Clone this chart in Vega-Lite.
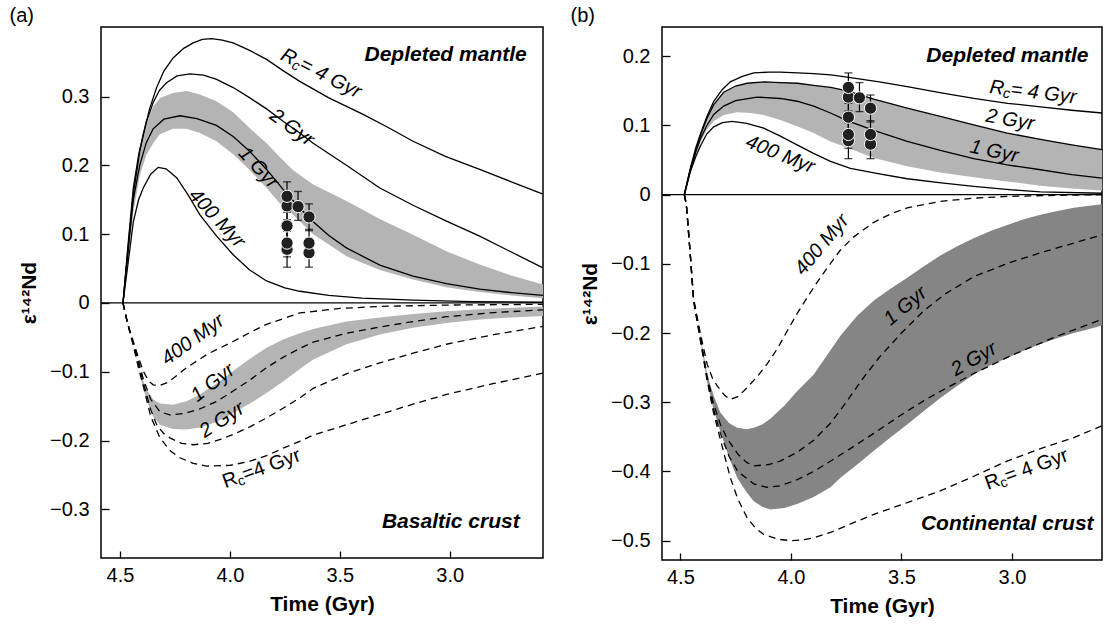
{
"$schema": "https://vega.github.io/schema/vega-lite/v6.json",
"padding": {"left": 8, "top": 5, "right": 2, "bottom": 2},
"spacing": 22,
"config": {
  "view": {"stroke": "black", "strokeWidth": 1.5},
  "font": "Liberation Sans",
  "axis": {"tickColor": "black", "labelColor": "black", "titleColor": "black", "tickWidth": 1.3, "labelFont": "Liberation Sans", "titleFont": "Liberation Sans", "grid": false, "domain": false},
  "title": {"font": "Liberation Sans", "fontWeight": "normal", "fontSize": 20, "color": "black"},
  "text": {"font": "Liberation Sans", "color": "black"}
},
"datasets": {
  "aBandM": [
    {"t":4.486,"e":0,"e2":0},{"t":4.46,"e":0.07,"e2":0.095},{"t":4.44,"e":0.13,"e2":0.17},{"t":4.41,"e":0.185,"e2":0.225},{"t":4.38,"e":0.215,"e2":0.26},{"t":4.349,"e":0.232,"e2":0.285},{"t":4.318,"e":0.245,"e2":0.298},{"t":4.258,"e":0.253,"e2":0.305},{"t":4.197,"e":0.253,"e2":0.308},{"t":4.136,"e":0.247,"e2":0.303},{"t":4.061,"e":0.235,"e2":0.293},{"t":3.985,"e":0.216,"e2":0.277},{"t":3.909,"e":0.193,"e2":0.254},{"t":3.833,"e":0.167,"e2":0.232},{"t":3.773,"e":0.145,"e2":0.212},{"t":3.712,"e":0.128,"e2":0.193},{"t":3.621,"e":0.1,"e2":0.172},{"t":3.47,"e":0.068,"e2":0.148},{"t":3.318,"e":0.048,"e2":0.122},{"t":3.167,"e":0.034,"e2":0.099},{"t":3.015,"e":0.023,"e2":0.075},{"t":2.864,"e":0.016,"e2":0.056},{"t":2.72,"e":0.011,"e2":0.04},{"t":2.576,"e":0.007,"e2":0.027}
  ],
  "aBandC": [
    {"t":4.41,"e":-0.105,"e2":-0.1},{"t":4.38,"e":-0.14,"e2":-0.125},{"t":4.349,"e":-0.165,"e2":-0.14},{"t":4.318,"e":-0.177,"e2":-0.146},{"t":4.258,"e":-0.183,"e2":-0.148},{"t":4.197,"e":-0.184,"e2":-0.143},{"t":4.136,"e":-0.181,"e2":-0.133},{"t":4.061,"e":-0.173,"e2":-0.117},{"t":3.985,"e":-0.16,"e2":-0.099},{"t":3.909,"e":-0.146,"e2":-0.081},{"t":3.833,"e":-0.131,"e2":-0.065},{"t":3.758,"e":-0.114,"e2":-0.053},{"t":3.682,"e":-0.096,"e2":-0.044},{"t":3.621,"e":-0.082,"e2":-0.038},{"t":3.47,"e":-0.06,"e2":-0.027},{"t":3.318,"e":-0.046,"e2":-0.021},{"t":3.167,"e":-0.036,"e2":-0.016},{"t":3.015,"e":-0.029,"e2":-0.012},{"t":2.864,"e":-0.024,"e2":-0.009},{"t":2.72,"e":-0.021,"e2":-0.007},{"t":2.576,"e":-0.019,"e2":-0.005}
  ],
  "aSolid": [
    {"c":"m4","t":4.486,"e":0},{"c":"m4","t":4.46,"e":0.095},{"c":"m4","t":4.439,"e":0.167},{"c":"m4","t":4.415,"e":0.215},{"c":"m4","t":4.394,"e":0.245},{"c":"m4","t":4.365,"e":0.282},{"c":"m4","t":4.333,"e":0.313},{"c":"m4","t":4.3,"e":0.337},{"c":"m4","t":4.258,"e":0.356},{"c":"m4","t":4.21,"e":0.37},{"c":"m4","t":4.167,"e":0.378},{"c":"m4","t":4.125,"e":0.383},{"c":"m4","t":4.083,"e":0.384},{"c":"m4","t":4.035,"e":0.382},{"c":"m4","t":3.985,"e":0.378},{"c":"m4","t":3.91,"e":0.367},{"c":"m4","t":3.833,"e":0.354},{"c":"m4","t":3.76,"e":0.338},{"c":"m4","t":3.682,"e":0.322},{"c":"m4","t":3.55,"e":0.298},{"c":"m4","t":3.394,"e":0.274},{"c":"m4","t":3.28,"e":0.255},{"c":"m4","t":3.167,"e":0.235},{"c":"m4","t":3.02,"e":0.213},{"c":"m4","t":2.864,"e":0.194},{"c":"m4","t":2.72,"e":0.176},{"c":"m4","t":2.576,"e":0.158},
    {"c":"m2","t":4.486,"e":0},{"c":"m2","t":4.46,"e":0.09},{"c":"m2","t":4.439,"e":0.158},{"c":"m2","t":4.409,"e":0.222},{"c":"m2","t":4.38,"e":0.263},{"c":"m2","t":4.349,"e":0.291},{"c":"m2","t":4.32,"e":0.309},{"c":"m2","t":4.288,"e":0.32},{"c":"m2","t":4.24,"e":0.33},{"c":"m2","t":4.182,"e":0.333},{"c":"m2","t":4.12,"e":0.331},{"c":"m2","t":4.06,"e":0.325},{"c":"m2","t":3.985,"e":0.313},{"c":"m2","t":3.909,"e":0.298},{"c":"m2","t":3.833,"e":0.282},{"c":"m2","t":3.758,"e":0.264},{"c":"m2","t":3.682,"e":0.247},{"c":"m2","t":3.621,"e":0.232},{"c":"m2","t":3.47,"e":0.2},{"c":"m2","t":3.318,"e":0.167},{"c":"m2","t":3.167,"e":0.142},{"c":"m2","t":3.015,"e":0.119},{"c":"m2","t":2.864,"e":0.097},{"c":"m2","t":2.72,"e":0.074},{"c":"m2","t":2.576,"e":0.051},
    {"c":"m1","t":4.486,"e":0},{"c":"m1","t":4.46,"e":0.085},{"c":"m1","t":4.439,"e":0.15},{"c":"m1","t":4.41,"e":0.2},{"c":"m1","t":4.38,"e":0.233},{"c":"m1","t":4.349,"e":0.253},{"c":"m1","t":4.3,"e":0.267},{"c":"m1","t":4.227,"e":0.272},{"c":"m1","t":4.15,"e":0.268},{"c":"m1","t":4.061,"e":0.258},{"c":"m1","t":3.985,"e":0.242},{"c":"m1","t":3.909,"e":0.22},{"c":"m1","t":3.833,"e":0.194},{"c":"m1","t":3.758,"e":0.165},{"c":"m1","t":3.682,"e":0.138},{"c":"m1","t":3.621,"e":0.118},{"c":"m1","t":3.55,"e":0.098},{"c":"m1","t":3.47,"e":0.08},{"c":"m1","t":3.318,"e":0.055},{"c":"m1","t":3.167,"e":0.039},{"c":"m1","t":3.015,"e":0.028},{"c":"m1","t":2.864,"e":0.02},{"c":"m1","t":2.72,"e":0.015},{"c":"m1","t":2.576,"e":0.011},
    {"c":"m400","t":4.486,"e":0},{"c":"m400","t":4.46,"e":0.065},{"c":"m400","t":4.439,"e":0.118},{"c":"m400","t":4.415,"e":0.15},{"c":"m400","t":4.394,"e":0.167},{"c":"m400","t":4.36,"e":0.187},{"c":"m400","t":4.326,"e":0.197},{"c":"m400","t":4.29,"e":0.195},{"c":"m400","t":4.242,"e":0.182},{"c":"m400","t":4.19,"e":0.157},{"c":"m400","t":4.136,"e":0.128},{"c":"m400","t":4.06,"e":0.097},{"c":"m400","t":3.985,"e":0.07},{"c":"m400","t":3.91,"e":0.048},{"c":"m400","t":3.833,"e":0.032},{"c":"m400","t":3.75,"e":0.022},{"c":"m400","t":3.682,"e":0.017},{"c":"m400","t":3.55,"e":0.011},{"c":"m400","t":3.4,"e":0.007},{"c":"m400","t":3.167,"e":0.004},{"c":"m400","t":2.9,"e":0.002},{"c":"m400","t":2.576,"e":0.001}
  ],
  "aDashed": [
    {"c":"c400","t":4.486,"e":0},{"c":"c400","t":4.465,"e":-0.03},{"c":"c400","t":4.439,"e":-0.056},{"c":"c400","t":4.415,"e":-0.08},{"c":"c400","t":4.394,"e":-0.099},{"c":"c400","t":4.37,"e":-0.113},{"c":"c400","t":4.349,"e":-0.119},{"c":"c400","t":4.32,"e":-0.12},{"c":"c400","t":4.28,"e":-0.115},{"c":"c400","t":4.24,"e":-0.105},{"c":"c400","t":4.197,"e":-0.094},{"c":"c400","t":4.1,"e":-0.074},{"c":"c400","t":3.985,"e":-0.056},{"c":"c400","t":3.909,"e":-0.043},{"c":"c400","t":3.833,"e":-0.031},{"c":"c400","t":3.75,"e":-0.022},{"c":"c400","t":3.682,"e":-0.0145},{"c":"c400","t":3.5,"e":-0.008},{"c":"c400","t":3.318,"e":-0.005},{"c":"c400","t":3.0,"e":-0.003},{"c":"c400","t":2.576,"e":-0.002},
    {"c":"c1","t":4.486,"e":0},{"c":"c1","t":4.465,"e":-0.03},{"c":"c1","t":4.439,"e":-0.058},{"c":"c1","t":4.415,"e":-0.085},{"c":"c1","t":4.394,"e":-0.11},{"c":"c1","t":4.36,"e":-0.14},{"c":"c1","t":4.318,"e":-0.158},{"c":"c1","t":4.27,"e":-0.163},{"c":"c1","t":4.2,"e":-0.16},{"c":"c1","t":4.136,"e":-0.154},{"c":"c1","t":4.06,"e":-0.143},{"c":"c1","t":3.985,"e":-0.128},{"c":"c1","t":3.909,"e":-0.112},{"c":"c1","t":3.833,"e":-0.094},{"c":"c1","t":3.758,"e":-0.079},{"c":"c1","t":3.682,"e":-0.066},{"c":"c1","t":3.621,"e":-0.057},{"c":"c1","t":3.47,"e":-0.044},{"c":"c1","t":3.318,"e":-0.035},{"c":"c1","t":3.167,"e":-0.027},{"c":"c1","t":3.015,"e":-0.02},{"c":"c1","t":2.8,"e":-0.014},{"c":"c1","t":2.576,"e":-0.01},
    {"c":"c2","t":4.486,"e":0},{"c":"c2","t":4.465,"e":-0.03},{"c":"c2","t":4.439,"e":-0.06},{"c":"c2","t":4.415,"e":-0.09},{"c":"c2","t":4.394,"e":-0.115},{"c":"c2","t":4.36,"e":-0.155},{"c":"c2","t":4.333,"e":-0.177},{"c":"c2","t":4.3,"e":-0.19},{"c":"c2","t":4.273,"e":-0.196},{"c":"c2","t":4.22,"e":-0.204},{"c":"c2","t":4.167,"e":-0.206},{"c":"c2","t":4.1,"e":-0.204},{"c":"c2","t":4.04,"e":-0.198},{"c":"c2","t":3.985,"e":-0.191},{"c":"c2","t":3.909,"e":-0.18},{"c":"c2","t":3.833,"e":-0.167},{"c":"c2","t":3.758,"e":-0.153},{"c":"c2","t":3.682,"e":-0.138},{"c":"c2","t":3.621,"e":-0.124},{"c":"c2","t":3.47,"e":-0.103},{"c":"c2","t":3.318,"e":-0.087},{"c":"c2","t":3.167,"e":-0.073},{"c":"c2","t":3.015,"e":-0.06},{"c":"c2","t":2.8,"e":-0.046},{"c":"c2","t":2.576,"e":-0.034},
    {"c":"c4","t":4.486,"e":0},{"c":"c4","t":4.465,"e":-0.03},{"c":"c4","t":4.439,"e":-0.062},{"c":"c4","t":4.415,"e":-0.095},{"c":"c4","t":4.394,"e":-0.12},{"c":"c4","t":4.36,"e":-0.165},{"c":"c4","t":4.318,"e":-0.196},{"c":"c4","t":4.27,"e":-0.215},{"c":"c4","t":4.227,"e":-0.225},{"c":"c4","t":4.167,"e":-0.233},{"c":"c4","t":4.106,"e":-0.237},{"c":"c4","t":4.0,"e":-0.236},{"c":"c4","t":3.909,"e":-0.23},{"c":"c4","t":3.833,"e":-0.222},{"c":"c4","t":3.758,"e":-0.211},{"c":"c4","t":3.682,"e":-0.201},{"c":"c4","t":3.621,"e":-0.192},{"c":"c4","t":3.47,"e":-0.177},{"c":"c4","t":3.318,"e":-0.162},{"c":"c4","t":3.167,"e":-0.147},{"c":"c4","t":3.015,"e":-0.133},{"c":"c4","t":2.8,"e":-0.117},{"c":"c4","t":2.576,"e":-0.102}
  ],
  "bBandM": [
    {"t":4.482,"e":0,"e2":0},{"t":4.455,"e":0.034,"e2":0.036},{"t":4.41,"e":0.075,"e2":0.085},{"t":4.38,"e":0.094,"e2":0.11},{"t":4.349,"e":0.106,"e2":0.13},{"t":4.304,"e":0.115,"e2":0.148},{"t":4.243,"e":0.119,"e2":0.157},{"t":4.18,"e":0.118,"e2":0.161},{"t":4.123,"e":0.115,"e2":0.163},{"t":4.048,"e":0.108,"e2":0.162},{"t":3.972,"e":0.099,"e2":0.161},{"t":3.897,"e":0.089,"e2":0.158},{"t":3.821,"e":0.077,"e2":0.155},{"t":3.746,"e":0.068,"e2":0.15},{"t":3.625,"e":0.053,"e2":0.138},{"t":3.474,"e":0.041,"e2":0.125},{"t":3.324,"e":0.032,"e2":0.113},{"t":3.173,"e":0.025,"e2":0.101},{"t":3.022,"e":0.019,"e2":0.089},{"t":2.871,"e":0.013,"e2":0.08},{"t":2.73,"e":0.009,"e2":0.072},{"t":2.593,"e":0.006,"e2":0.065}
  ],
  "bBandC": [
    {"t":4.41,"e":-0.207,"e2":-0.203},{"t":4.379,"e":-0.27,"e2":-0.26},{"t":4.35,"e":-0.31,"e2":-0.29},{"t":4.319,"e":-0.342,"e2":-0.315},{"t":4.28,"e":-0.38,"e2":-0.33},{"t":4.243,"e":-0.409,"e2":-0.337},{"t":4.2,"e":-0.43,"e2":-0.339},{"t":4.168,"e":-0.443,"e2":-0.337},{"t":4.13,"e":-0.451,"e2":-0.332},{"t":4.093,"e":-0.455,"e2":-0.324},{"t":4.03,"e":-0.453,"e2":-0.305},{"t":3.972,"e":-0.447,"e2":-0.284},{"t":3.897,"e":-0.437,"e2":-0.26},{"t":3.821,"e":-0.423,"e2":-0.225},{"t":3.776,"e":-0.409,"e2":-0.204},{"t":3.7,"e":-0.39,"e2":-0.175},{"t":3.625,"e":-0.37,"e2":-0.153},{"t":3.55,"e":-0.351,"e2":-0.136},{"t":3.474,"e":-0.332,"e2":-0.12},{"t":3.4,"e":-0.313,"e2":-0.104},{"t":3.324,"e":-0.294,"e2":-0.088},{"t":3.25,"e":-0.277,"e2":-0.075},{"t":3.173,"e":-0.26,"e2":-0.063},{"t":3.1,"e":-0.247,"e2":-0.053},{"t":3.022,"e":-0.236,"e2":-0.044},{"t":2.95,"e":-0.226,"e2":-0.036},{"t":2.871,"e":-0.216,"e2":-0.029},{"t":2.8,"e":-0.208,"e2":-0.024},{"t":2.72,"e":-0.2,"e2":-0.019},{"t":2.65,"e":-0.194,"e2":-0.016},{"t":2.593,"e":-0.189,"e2":-0.014}
  ],
  "bSolid": [
    {"c":"m4","t":4.482,"e":0},{"c":"m4","t":4.468,"e":0.02},{"c":"m4","t":4.455,"e":0.038},{"c":"m4","t":4.43,"e":0.068},{"c":"m4","t":4.41,"e":0.087},{"c":"m4","t":4.38,"e":0.113},{"c":"m4","t":4.349,"e":0.135},{"c":"m4","t":4.31,"e":0.152},{"c":"m4","t":4.274,"e":0.163},{"c":"m4","t":4.22,"e":0.171},{"c":"m4","t":4.168,"e":0.176},{"c":"m4","t":4.1,"e":0.177},{"c":"m4","t":4.048,"e":0.177},{"c":"m4","t":3.97,"e":0.176},{"c":"m4","t":3.897,"e":0.175},{"c":"m4","t":3.82,"e":0.173},{"c":"m4","t":3.746,"e":0.17},{"c":"m4","t":3.6,"e":0.163},{"c":"m4","t":3.474,"e":0.156},{"c":"m4","t":3.32,"e":0.147},{"c":"m4","t":3.173,"e":0.139},{"c":"m4","t":3.02,"e":0.132},{"c":"m4","t":2.871,"e":0.127},{"c":"m4","t":2.73,"e":0.122},{"c":"m4","t":2.593,"e":0.118},
    {"c":"m2","t":4.482,"e":0},{"c":"m2","t":4.468,"e":0.019},{"c":"m2","t":4.455,"e":0.036},{"c":"m2","t":4.43,"e":0.065},{"c":"m2","t":4.41,"e":0.085},{"c":"m2","t":4.38,"e":0.11},{"c":"m2","t":4.349,"e":0.13},{"c":"m2","t":4.304,"e":0.148},{"c":"m2","t":4.25,"e":0.157},{"c":"m2","t":4.198,"e":0.161},{"c":"m2","t":4.12,"e":0.163},{"c":"m2","t":4.048,"e":0.162},{"c":"m2","t":3.97,"e":0.161},{"c":"m2","t":3.897,"e":0.158},{"c":"m2","t":3.82,"e":0.155},{"c":"m2","t":3.746,"e":0.15},{"c":"m2","t":3.625,"e":0.138},{"c":"m2","t":3.474,"e":0.125},{"c":"m2","t":3.324,"e":0.113},{"c":"m2","t":3.173,"e":0.101},{"c":"m2","t":3.022,"e":0.089},{"c":"m2","t":2.871,"e":0.08},{"c":"m2","t":2.73,"e":0.072},{"c":"m2","t":2.593,"e":0.065},
    {"c":"m1","t":4.482,"e":0},{"c":"m1","t":4.468,"e":0.018},{"c":"m1","t":4.455,"e":0.035},{"c":"m1","t":4.43,"e":0.062},{"c":"m1","t":4.41,"e":0.08},{"c":"m1","t":4.38,"e":0.1},{"c":"m1","t":4.349,"e":0.116},{"c":"m1","t":4.304,"e":0.128},{"c":"m1","t":4.25,"e":0.136},{"c":"m1","t":4.153,"e":0.141},{"c":"m1","t":4.048,"e":0.139},{"c":"m1","t":3.972,"e":0.135},{"c":"m1","t":3.897,"e":0.128},{"c":"m1","t":3.821,"e":0.118},{"c":"m1","t":3.746,"e":0.107},{"c":"m1","t":3.625,"e":0.093},{"c":"m1","t":3.474,"e":0.077},{"c":"m1","t":3.324,"e":0.064},{"c":"m1","t":3.173,"e":0.052},{"c":"m1","t":3.022,"e":0.043},{"c":"m1","t":2.871,"e":0.036},{"c":"m1","t":2.73,"e":0.029},{"c":"m1","t":2.593,"e":0.024},
    {"c":"m400","t":4.482,"e":0},{"c":"m400","t":4.468,"e":0.017},{"c":"m400","t":4.455,"e":0.033},{"c":"m400","t":4.43,"e":0.055},{"c":"m400","t":4.41,"e":0.07},{"c":"m400","t":4.38,"e":0.088},{"c":"m400","t":4.349,"e":0.098},{"c":"m400","t":4.31,"e":0.104},{"c":"m400","t":4.266,"e":0.106},{"c":"m400","t":4.2,"e":0.103},{"c":"m400","t":4.123,"e":0.096},{"c":"m400","t":4.05,"e":0.085},{"c":"m400","t":3.972,"e":0.072},{"c":"m400","t":3.9,"e":0.06},{"c":"m400","t":3.821,"e":0.048},{"c":"m400","t":3.731,"e":0.038},{"c":"m400","t":3.6,"e":0.03},{"c":"m400","t":3.474,"e":0.023},{"c":"m400","t":3.32,"e":0.017},{"c":"m400","t":3.173,"e":0.012},{"c":"m400","t":3.0,"e":0.007},{"c":"m400","t":2.871,"e":0.004},{"c":"m400","t":2.593,"e":0.002}
  ],
  "bDashed": [
    {"c":"c400","t":4.482,"e":0},{"c":"c400","t":4.473,"e":-0.014},{"c":"c400","t":4.455,"e":-0.087},{"c":"c400","t":4.44,"e":-0.15},{"c":"c400","t":4.41,"e":-0.2},{"c":"c400","t":4.379,"e":-0.245},{"c":"c400","t":4.355,"e":-0.265},{"c":"c400","t":4.334,"e":-0.276},{"c":"c400","t":4.3,"e":-0.29},{"c":"c400","t":4.274,"e":-0.296},{"c":"c400","t":4.24,"e":-0.292},{"c":"c400","t":4.198,"e":-0.279},{"c":"c400","t":4.15,"e":-0.262},{"c":"c400","t":4.108,"e":-0.245},{"c":"c400","t":4.06,"e":-0.222},{"c":"c400","t":4.017,"e":-0.197},{"c":"c400","t":3.972,"e":-0.172},{"c":"c400","t":3.927,"e":-0.149},{"c":"c400","t":3.88,"e":-0.126},{"c":"c400","t":3.836,"e":-0.106},{"c":"c400","t":3.776,"e":-0.08},{"c":"c400","t":3.72,"e":-0.062},{"c":"c400","t":3.625,"e":-0.04},{"c":"c400","t":3.55,"e":-0.028},{"c":"c400","t":3.474,"e":-0.019},{"c":"c400","t":3.324,"e":-0.0097},{"c":"c400","t":3.17,"e":-0.005},{"c":"c400","t":3.02,"e":-0.0025},{"c":"c400","t":2.8,"e":-0.001},{"c":"c400","t":2.593,"e":0},
    {"c":"c1","t":4.482,"e":0},{"c":"c1","t":4.473,"e":-0.014},{"c":"c1","t":4.455,"e":-0.087},{"c":"c1","t":4.44,"e":-0.152},{"c":"c1","t":4.41,"e":-0.205},{"c":"c1","t":4.379,"e":-0.262},{"c":"c1","t":4.35,"e":-0.302},{"c":"c1","t":4.319,"e":-0.332},{"c":"c1","t":4.289,"e":-0.352},{"c":"c1","t":4.24,"e":-0.375},{"c":"c1","t":4.2,"e":-0.387},{"c":"c1","t":4.168,"e":-0.392},{"c":"c1","t":4.1,"e":-0.39},{"c":"c1","t":4.048,"e":-0.385},{"c":"c1","t":3.97,"e":-0.372},{"c":"c1","t":3.897,"e":-0.355},{"c":"c1","t":3.82,"e":-0.33},{"c":"c1","t":3.75,"e":-0.3},{"c":"c1","t":3.68,"e":-0.268},{"c":"c1","t":3.6,"e":-0.235},{"c":"c1","t":3.5,"e":-0.2},{"c":"c1","t":3.4,"e":-0.168},{"c":"c1","t":3.3,"e":-0.143},{"c":"c1","t":3.17,"e":-0.118},{"c":"c1","t":3.0,"e":-0.097},{"c":"c1","t":2.85,"e":-0.082},{"c":"c1","t":2.72,"e":-0.07},{"c":"c1","t":2.593,"e":-0.058},
    {"c":"c2","t":4.482,"e":0},{"c":"c2","t":4.473,"e":-0.014},{"c":"c2","t":4.455,"e":-0.087},{"c":"c2","t":4.44,"e":-0.153},{"c":"c2","t":4.41,"e":-0.207},{"c":"c2","t":4.379,"e":-0.265},{"c":"c2","t":4.35,"e":-0.31},{"c":"c2","t":4.319,"e":-0.345},{"c":"c2","t":4.28,"e":-0.378},{"c":"c2","t":4.24,"e":-0.4},{"c":"c2","t":4.168,"e":-0.418},{"c":"c2","t":4.108,"e":-0.423},{"c":"c2","t":4.05,"e":-0.421},{"c":"c2","t":3.972,"e":-0.412},{"c":"c2","t":3.897,"e":-0.4},{"c":"c2","t":3.82,"e":-0.385},{"c":"c2","t":3.746,"e":-0.37},{"c":"c2","t":3.625,"e":-0.345},{"c":"c2","t":3.5,"e":-0.318},{"c":"c2","t":3.4,"e":-0.298},{"c":"c2","t":3.3,"e":-0.28},{"c":"c2","t":3.17,"e":-0.258},{"c":"c2","t":3.0,"e":-0.232},{"c":"c2","t":2.8,"e":-0.205},{"c":"c2","t":2.593,"e":-0.18},
    {"c":"c4","t":4.482,"e":0},{"c":"c4","t":4.473,"e":-0.014},{"c":"c4","t":4.455,"e":-0.087},{"c":"c4","t":4.44,"e":-0.154},{"c":"c4","t":4.41,"e":-0.21},{"c":"c4","t":4.379,"e":-0.268},{"c":"c4","t":4.35,"e":-0.315},{"c":"c4","t":4.31,"e":-0.365},{"c":"c4","t":4.274,"e":-0.409},{"c":"c4","t":4.24,"e":-0.44},{"c":"c4","t":4.198,"e":-0.467},{"c":"c4","t":4.16,"e":-0.482},{"c":"c4","t":4.123,"e":-0.491},{"c":"c4","t":4.06,"e":-0.498},{"c":"c4","t":4.0,"e":-0.5},{"c":"c4","t":3.95,"e":-0.499},{"c":"c4","t":3.897,"e":-0.496},{"c":"c4","t":3.82,"e":-0.488},{"c":"c4","t":3.746,"e":-0.478},{"c":"c4","t":3.625,"e":-0.462},{"c":"c4","t":3.474,"e":-0.445},{"c":"c4","t":3.324,"e":-0.428},{"c":"c4","t":3.173,"e":-0.407},{"c":"c4","t":3.022,"e":-0.385},{"c":"c4","t":2.871,"e":-0.367},{"c":"c4","t":2.72,"e":-0.351},{"c":"c4","t":2.593,"e":-0.334}
  ],
  "samples": [
    {"t":3.74,"e":0.078,"lo":0.052,"hi":0.104},{"t":3.74,"e":0.087,"lo":0.067,"hi":0.107},{"t":3.74,"e":0.112,"lo":0.092,"hi":0.132},{"t":3.74,"e":0.141,"lo":0.121,"hi":0.161},{"t":3.74,"e":0.155,"lo":0.135,"hi":0.176},
    {"t":3.69,"e":0.14,"lo":0.12,"hi":0.162},
    {"t":3.64,"e":0.073,"lo":0.052,"hi":0.094},{"t":3.64,"e":0.087,"lo":0.067,"hi":0.107},{"t":3.64,"e":0.125,"lo":0.105,"hi":0.144}
  ]
},
"hconcat": [
{
  "width": 442, "height": 531,
  "title": {"text": "(a)", "anchor": "start", "frame": "bounds", "dx": -9, "offset": 1},
  "layer": [
    {"data": {"name": "aBandM"}, "mark": {"type": "area", "color": "#b4b4b4"},
     "encoding": {
       "x": {"field": "t", "type": "quantitative", "scale": {"domain": [4.586, 2.576], "nice": false, "zero": false},
             "axis": {"title": "Time (Gyr)", "values": [4.5, 4.0, 3.5, 3.0], "format": ".1f", "tickSize": -7, "labelPadding": 14, "labelFontSize": 20, "titleFontSize": 21, "titleFontWeight": "bold", "titlePadding": 8}},
       "y": {"field": "e", "type": "quantitative", "scale": {"domain": [-0.3706, 0.401], "nice": false, "zero": false},
             "axis": {"title": "ε¹⁴²Nd", "values": [-0.3, -0.2, -0.1, 0, 0.1, 0.2, 0.3], "labelExpr": "datum.value == 0 ? '0' : format(datum.value, '.1f')", "tickSize": -8, "labelPadding": 20, "labelFontSize": 20, "titleFontSize": 21, "titleFontWeight": "bold", "titlePadding": 10}},
       "y2": {"field": "e2"}}},
    {"data": {"name": "aBandC"}, "mark": {"type": "area", "color": "#b4b4b4"},
     "encoding": {
       "x": {"field": "t", "type": "quantitative", "scale": {"domain": [4.586, 2.576], "nice": false, "zero": false}},
       "y": {"field": "e", "type": "quantitative", "scale": {"domain": [-0.3706, 0.401], "nice": false, "zero": false}},
       "y2": {"field": "e2"}}},
    {"data": {"values": [{}]}, "mark": {"type": "rule", "color": "black", "strokeWidth": 1.3},
     "encoding": {
       "y": {"datum": 0, "type": "quantitative", "scale": {"domain": [-0.3706, 0.401], "nice": false, "zero": false}}}},
    {"data": {"name": "aSolid"}, "mark": {"type": "line", "color": "black", "strokeWidth": 1.3},
     "encoding": {
       "x": {"field": "t", "type": "quantitative", "scale": {"domain": [4.586, 2.576], "nice": false, "zero": false}},
       "y": {"field": "e", "type": "quantitative", "scale": {"domain": [-0.3706, 0.401], "nice": false, "zero": false}},
       "detail": {"field": "c"}}},
    {"data": {"name": "aDashed"}, "mark": {"type": "line", "color": "black", "strokeWidth": 1.3, "strokeDash": [7, 5]},
     "encoding": {
       "x": {"field": "t", "type": "quantitative", "scale": {"domain": [4.586, 2.576], "nice": false, "zero": false}},
       "y": {"field": "e", "type": "quantitative", "scale": {"domain": [-0.3706, 0.401], "nice": false, "zero": false}},
       "detail": {"field": "c"}}},
    {"data": {"name": "samples"}, "mark": {"type": "rule", "color": "black", "strokeWidth": 1.2},
     "encoding": {
       "x": {"field": "t", "type": "quantitative", "scale": {"domain": [4.586, 2.576], "nice": false, "zero": false}},
       "y": {"field": "lo", "type": "quantitative", "scale": {"domain": [-0.3706, 0.401], "nice": false, "zero": false}},
       "y2": {"field": "hi"}}},
    {"data": {"name": "samples"}, "mark": {"type": "tick", "color": "black", "orient": "horizontal", "size": 8, "thickness": 1.3},
     "encoding": {
       "x": {"field": "t", "type": "quantitative", "scale": {"domain": [4.586, 2.576], "nice": false, "zero": false}},
       "y": {"field": "lo", "type": "quantitative", "scale": {"domain": [-0.3706, 0.401], "nice": false, "zero": false}}}},
    {"data": {"name": "samples"}, "mark": {"type": "tick", "color": "black", "orient": "horizontal", "size": 8, "thickness": 1.3},
     "encoding": {
       "x": {"field": "t", "type": "quantitative", "scale": {"domain": [4.586, 2.576], "nice": false, "zero": false}},
       "y": {"field": "hi", "type": "quantitative", "scale": {"domain": [-0.3706, 0.401], "nice": false, "zero": false}}}},
    {"data": {"name": "samples"}, "mark": {"type": "point", "shape": "circle", "filled": true, "size": 150, "fill": "#202020", "stroke": "white", "strokeWidth": 1, "opacity": 1},
     "encoding": {
       "x": {"field": "t", "type": "quantitative", "scale": {"domain": [4.586, 2.576], "nice": false, "zero": false}},
       "y": {"field": "e", "type": "quantitative", "scale": {"domain": [-0.3706, 0.401], "nice": false, "zero": false}}}},
    {"data": {"values": [{"t": 2.65, "e": 0.36, "label": "Depleted mantle"}, {"t": 2.682, "e": -0.318, "label": "Basaltic crust"}]},
     "mark": {"type": "text", "align": "right", "baseline": "middle", "fontSize": 21, "fontWeight": "bold", "fontStyle": "italic"},
     "encoding": {
       "x": {"field": "t", "type": "quantitative", "scale": {"domain": [4.586, 2.576], "nice": false, "zero": false}},
       "y": {"field": "e", "type": "quantitative", "scale": {"domain": [-0.3706, 0.401], "nice": false, "zero": false}},
       "text": {"field": "label"}}},
    {"data": {"values": [{"t": 3.575, "e": 0.332, "label": "R"}]},
     "mark": {"type": "text", "align": "left", "baseline": "middle", "fontSize": 20, "fontStyle": "italic", "angle": 27, "dx": -46},
     "encoding": {"x": {"field": "t", "type": "quantitative", "scale": {"domain": [4.586, 2.576], "nice": false, "zero": false}}, "y": {"field": "e", "type": "quantitative", "scale": {"domain": [-0.3706, 0.401], "nice": false, "zero": false}}, "text": {"field": "label"}}},
    {"data": {"values": [{"t": 3.575, "e": 0.332, "label": "c"}]},
     "mark": {"type": "text", "align": "left", "baseline": "middle", "fontSize": 14, "fontStyle": "italic", "angle": 27, "dx": -32, "dy": 5},
     "encoding": {"x": {"field": "t", "type": "quantitative", "scale": {"domain": [4.586, 2.576], "nice": false, "zero": false}}, "y": {"field": "e", "type": "quantitative", "scale": {"domain": [-0.3706, 0.401], "nice": false, "zero": false}}, "text": {"field": "label"}}},
    {"data": {"values": [{"t": 3.575, "e": 0.332, "label": " = 4 Gyr"}]},
     "mark": {"type": "text", "align": "left", "baseline": "middle", "fontSize": 20, "fontStyle": "italic", "angle": 27, "dx": -25},
     "encoding": {"x": {"field": "t", "type": "quantitative", "scale": {"domain": [4.586, 2.576], "nice": false, "zero": false}}, "y": {"field": "e", "type": "quantitative", "scale": {"domain": [-0.3706, 0.401], "nice": false, "zero": false}}, "text": {"field": "label"}}},
    {"data": {"values": [{"t": 3.718, "e": 0.255, "label": "2 Gyr"}]},
     "mark": {"type": "text", "align": "center", "baseline": "middle", "fontSize": 20, "fontStyle": "italic", "angle": 36},
     "encoding": {"x": {"field": "t", "type": "quantitative", "scale": {"domain": [4.586, 2.576], "nice": false, "zero": false}}, "y": {"field": "e", "type": "quantitative", "scale": {"domain": [-0.3706, 0.401], "nice": false, "zero": false}}, "text": {"field": "label"}}},
    {"data": {"values": [{"t": 3.87, "e": 0.1965, "label": "1 Gyr"}]},
     "mark": {"type": "text", "align": "center", "baseline": "middle", "fontSize": 20, "fontStyle": "italic", "angle": 47},
     "encoding": {"x": {"field": "t", "type": "quantitative", "scale": {"domain": [4.586, 2.576], "nice": false, "zero": false}}, "y": {"field": "e", "type": "quantitative", "scale": {"domain": [-0.3706, 0.401], "nice": false, "zero": false}}, "text": {"field": "label"}}},
    {"data": {"values": [{"t": 4.059, "e": 0.123, "label": "400 Myr"}]},
     "mark": {"type": "text", "align": "center", "baseline": "middle", "fontSize": 20, "fontStyle": "italic", "angle": 47},
     "encoding": {"x": {"field": "t", "type": "quantitative", "scale": {"domain": [4.586, 2.576], "nice": false, "zero": false}}, "y": {"field": "e", "type": "quantitative", "scale": {"domain": [-0.3706, 0.401], "nice": false, "zero": false}}, "text": {"field": "label"}}},
    {"data": {"values": [{"t": 4.168, "e": -0.0535, "label": "400 Myr"}]},
     "mark": {"type": "text", "align": "center", "baseline": "middle", "fontSize": 20, "fontStyle": "italic", "angle": -36},
     "encoding": {"x": {"field": "t", "type": "quantitative", "scale": {"domain": [4.586, 2.576], "nice": false, "zero": false}}, "y": {"field": "e", "type": "quantitative", "scale": {"domain": [-0.3706, 0.401], "nice": false, "zero": false}}, "text": {"field": "label"}}},
    {"data": {"values": [{"t": 4.077, "e": -0.116, "label": "1 Gyr"}]},
     "mark": {"type": "text", "align": "center", "baseline": "middle", "fontSize": 20, "fontStyle": "italic", "angle": -38},
     "encoding": {"x": {"field": "t", "type": "quantitative", "scale": {"domain": [4.586, 2.576], "nice": false, "zero": false}}, "y": {"field": "e", "type": "quantitative", "scale": {"domain": [-0.3706, 0.401], "nice": false, "zero": false}}, "text": {"field": "label"}}},
    {"data": {"values": [{"t": 4.036, "e": -0.17, "label": "2 Gyr"}]},
     "mark": {"type": "text", "align": "center", "baseline": "middle", "fontSize": 20, "fontStyle": "italic", "angle": -33},
     "encoding": {"x": {"field": "t", "type": "quantitative", "scale": {"domain": [4.586, 2.576], "nice": false, "zero": false}}, "y": {"field": "e", "type": "quantitative", "scale": {"domain": [-0.3706, 0.401], "nice": false, "zero": false}}, "text": {"field": "label"}}},
    {"data": {"values": [{"t": 3.859, "e": -0.241, "label": "R"}]},
     "mark": {"type": "text", "align": "left", "baseline": "middle", "fontSize": 20, "angle": -20, "dx": -40},
     "encoding": {"x": {"field": "t", "type": "quantitative", "scale": {"domain": [4.586, 2.576], "nice": false, "zero": false}}, "y": {"field": "e", "type": "quantitative", "scale": {"domain": [-0.3706, 0.401], "nice": false, "zero": false}}, "text": {"field": "label"}}},
    {"data": {"values": [{"t": 3.859, "e": -0.241, "label": "c"}]},
     "mark": {"type": "text", "align": "left", "baseline": "middle", "fontSize": 14, "angle": -20, "dx": -26, "dy": 5},
     "encoding": {"x": {"field": "t", "type": "quantitative", "scale": {"domain": [4.586, 2.576], "nice": false, "zero": false}}, "y": {"field": "e", "type": "quantitative", "scale": {"domain": [-0.3706, 0.401], "nice": false, "zero": false}}, "text": {"field": "label"}}},
    {"data": {"values": [{"t": 3.859, "e": -0.241, "label": "=4 Gyr"}]},
     "mark": {"type": "text", "align": "left", "baseline": "middle", "fontSize": 20, "angle": -20, "dx": -19},
     "encoding": {"x": {"field": "t", "type": "quantitative", "scale": {"domain": [4.586, 2.576], "nice": false, "zero": false}}, "y": {"field": "e", "type": "quantitative", "scale": {"domain": [-0.3706, 0.401], "nice": false, "zero": false}}, "text": {"field": "label"}}}
  ]
},
{
  "width": 440, "height": 533,
  "title": {"text": "(b)", "anchor": "start", "frame": "bounds", "dx": -9, "offset": 1},
  "layer": [
    {"data": {"name": "bBandM"}, "mark": {"type": "area", "color": "#b4b4b4"},
     "encoding": {
       "x": {"field": "t", "type": "quantitative", "scale": {"domain": [4.583, 2.593], "nice": false, "zero": false},
             "axis": {"title": "Time (Gyr)", "values": [4.5, 4.0, 3.5, 3.0], "format": ".1f", "tickSize": -7, "labelPadding": 14, "labelFontSize": 20, "titleFontSize": 21, "titleFontWeight": "bold", "titlePadding": 8}},
       "y": {"field": "e", "type": "quantitative", "scale": {"domain": [-0.528, 0.2423], "nice": false, "zero": false},
             "axis": {"title": "ε¹⁴²Nd", "values": [-0.5, -0.4, -0.3, -0.2, -0.1, 0, 0.1, 0.2], "labelExpr": "datum.value == 0 ? '0' : format(datum.value, '.1f')", "tickSize": -8, "labelPadding": 20, "labelFontSize": 20, "titleFontSize": 21, "titleFontWeight": "bold", "titlePadding": 10}},
       "y2": {"field": "e2"}}},
    {"data": {"name": "bBandC"}, "mark": {"type": "area", "color": "#858585"},
     "encoding": {
       "x": {"field": "t", "type": "quantitative", "scale": {"domain": [4.583, 2.593], "nice": false, "zero": false}},
       "y": {"field": "e", "type": "quantitative", "scale": {"domain": [-0.528, 0.2423], "nice": false, "zero": false}},
       "y2": {"field": "e2"}}},
    {"data": {"values": [{}]}, "mark": {"type": "rule", "color": "black", "strokeWidth": 1.3},
     "encoding": {
       "y": {"datum": 0, "type": "quantitative", "scale": {"domain": [-0.528, 0.2423], "nice": false, "zero": false}}}},
    {"data": {"name": "bSolid"}, "mark": {"type": "line", "color": "black", "strokeWidth": 1.3},
     "encoding": {
       "x": {"field": "t", "type": "quantitative", "scale": {"domain": [4.583, 2.593], "nice": false, "zero": false}},
       "y": {"field": "e", "type": "quantitative", "scale": {"domain": [-0.528, 0.2423], "nice": false, "zero": false}},
       "detail": {"field": "c"}}},
    {"data": {"name": "bDashed"}, "mark": {"type": "line", "color": "black", "strokeWidth": 1.3, "strokeDash": [7, 5]},
     "encoding": {
       "x": {"field": "t", "type": "quantitative", "scale": {"domain": [4.583, 2.593], "nice": false, "zero": false}},
       "y": {"field": "e", "type": "quantitative", "scale": {"domain": [-0.528, 0.2423], "nice": false, "zero": false}},
       "detail": {"field": "c"}}},
    {"data": {"name": "samples"}, "mark": {"type": "rule", "color": "black", "strokeWidth": 1.2},
     "encoding": {
       "x": {"field": "t", "type": "quantitative", "scale": {"domain": [4.583, 2.593], "nice": false, "zero": false}},
       "y": {"field": "lo", "type": "quantitative", "scale": {"domain": [-0.528, 0.2423], "nice": false, "zero": false}},
       "y2": {"field": "hi"}}},
    {"data": {"name": "samples"}, "mark": {"type": "tick", "color": "black", "orient": "horizontal", "size": 8, "thickness": 1.3},
     "encoding": {
       "x": {"field": "t", "type": "quantitative", "scale": {"domain": [4.583, 2.593], "nice": false, "zero": false}},
       "y": {"field": "lo", "type": "quantitative", "scale": {"domain": [-0.528, 0.2423], "nice": false, "zero": false}}}},
    {"data": {"name": "samples"}, "mark": {"type": "tick", "color": "black", "orient": "horizontal", "size": 8, "thickness": 1.3},
     "encoding": {
       "x": {"field": "t", "type": "quantitative", "scale": {"domain": [4.583, 2.593], "nice": false, "zero": false}},
       "y": {"field": "hi", "type": "quantitative", "scale": {"domain": [-0.528, 0.2423], "nice": false, "zero": false}}}},
    {"data": {"name": "samples"}, "mark": {"type": "point", "shape": "circle", "filled": true, "size": 150, "fill": "#202020", "stroke": "white", "strokeWidth": 1, "opacity": 1},
     "encoding": {
       "x": {"field": "t", "type": "quantitative", "scale": {"domain": [4.583, 2.593], "nice": false, "zero": false}},
       "y": {"field": "e", "type": "quantitative", "scale": {"domain": [-0.528, 0.2423], "nice": false, "zero": false}}}},
    {"data": {"values": [{"t": 2.654, "e": 0.201, "label": "Depleted mantle"}, {"t": 2.631, "e": -0.4765, "label": "Continental crust"}]},
     "mark": {"type": "text", "align": "right", "baseline": "middle", "fontSize": 21, "fontWeight": "bold", "fontStyle": "italic"},
     "encoding": {
       "x": {"field": "t", "type": "quantitative", "scale": {"domain": [4.583, 2.593], "nice": false, "zero": false}},
       "y": {"field": "e", "type": "quantitative", "scale": {"domain": [-0.528, 0.2423], "nice": false, "zero": false}},
       "text": {"field": "label"}}},
    {"data": {"values": [{"t": 2.894, "e": 0.1476, "label": "R"}]},
     "mark": {"type": "text", "align": "left", "baseline": "middle", "fontSize": 20, "fontStyle": "italic", "angle": 7, "dx": -46},
     "encoding": {"x": {"field": "t", "type": "quantitative", "scale": {"domain": [4.583, 2.593], "nice": false, "zero": false}}, "y": {"field": "e", "type": "quantitative", "scale": {"domain": [-0.528, 0.2423], "nice": false, "zero": false}}, "text": {"field": "label"}}},
    {"data": {"values": [{"t": 2.894, "e": 0.1476, "label": "c"}]},
     "mark": {"type": "text", "align": "left", "baseline": "middle", "fontSize": 14, "fontStyle": "italic", "angle": 7, "dx": -32, "dy": 5},
     "encoding": {"x": {"field": "t", "type": "quantitative", "scale": {"domain": [4.583, 2.593], "nice": false, "zero": false}}, "y": {"field": "e", "type": "quantitative", "scale": {"domain": [-0.528, 0.2423], "nice": false, "zero": false}}, "text": {"field": "label"}}},
    {"data": {"values": [{"t": 2.894, "e": 0.1476, "label": " = 4 Gyr"}]},
     "mark": {"type": "text", "align": "left", "baseline": "middle", "fontSize": 20, "fontStyle": "italic", "angle": 7, "dx": -25},
     "encoding": {"x": {"field": "t", "type": "quantitative", "scale": {"domain": [4.583, 2.593], "nice": false, "zero": false}}, "y": {"field": "e", "type": "quantitative", "scale": {"domain": [-0.528, 0.2423], "nice": false, "zero": false}}, "text": {"field": "label"}}},
    {"data": {"values": [{"t": 3.009, "e": 0.108, "label": "2 Gyr"}]},
     "mark": {"type": "text", "align": "center", "baseline": "middle", "fontSize": 20, "fontStyle": "italic", "angle": 10},
     "encoding": {"x": {"field": "t", "type": "quantitative", "scale": {"domain": [4.583, 2.593], "nice": false, "zero": false}}, "y": {"field": "e", "type": "quantitative", "scale": {"domain": [-0.528, 0.2423], "nice": false, "zero": false}}, "text": {"field": "label"}}},
    {"data": {"values": [{"t": 3.081, "e": 0.0625, "label": "1 Gyr"}]},
     "mark": {"type": "text", "align": "center", "baseline": "middle", "fontSize": 20, "fontStyle": "italic", "angle": 12},
     "encoding": {"x": {"field": "t", "type": "quantitative", "scale": {"domain": [4.583, 2.593], "nice": false, "zero": false}}, "y": {"field": "e", "type": "quantitative", "scale": {"domain": [-0.528, 0.2423], "nice": false, "zero": false}}, "text": {"field": "label"}}},
    {"data": {"values": [{"t": 4.048, "e": 0.058, "label": "400 Myr"}]},
     "mark": {"type": "text", "align": "center", "baseline": "middle", "fontSize": 20, "fontStyle": "italic", "angle": 22},
     "encoding": {"x": {"field": "t", "type": "quantitative", "scale": {"domain": [4.583, 2.593], "nice": false, "zero": false}}, "y": {"field": "e", "type": "quantitative", "scale": {"domain": [-0.528, 0.2423], "nice": false, "zero": false}}, "text": {"field": "label"}}},
    {"data": {"values": [{"t": 3.86, "e": -0.0724, "label": "400 Myr"}]},
     "mark": {"type": "text", "align": "center", "baseline": "middle", "fontSize": 20, "fontStyle": "italic", "angle": -50},
     "encoding": {"x": {"field": "t", "type": "quantitative", "scale": {"domain": [4.583, 2.593], "nice": false, "zero": false}}, "y": {"field": "e", "type": "quantitative", "scale": {"domain": [-0.528, 0.2423], "nice": false, "zero": false}}, "text": {"field": "label"}}},
    {"data": {"values": [{"t": 3.482, "e": -0.161, "label": "1 Gyr"}]},
     "mark": {"type": "text", "align": "center", "baseline": "middle", "fontSize": 20, "fontStyle": "italic", "angle": -40},
     "encoding": {"x": {"field": "t", "type": "quantitative", "scale": {"domain": [4.583, 2.593], "nice": false, "zero": false}}, "y": {"field": "e", "type": "quantitative", "scale": {"domain": [-0.528, 0.2423], "nice": false, "zero": false}}, "text": {"field": "label"}}},
    {"data": {"values": [{"t": 3.172, "e": -0.2377, "label": "2 Gyr"}]},
     "mark": {"type": "text", "align": "center", "baseline": "middle", "fontSize": 20, "fontStyle": "italic", "angle": -30},
     "encoding": {"x": {"field": "t", "type": "quantitative", "scale": {"domain": [4.583, 2.593], "nice": false, "zero": false}}, "y": {"field": "e", "type": "quantitative", "scale": {"domain": [-0.528, 0.2423], "nice": false, "zero": false}}, "text": {"field": "label"}}},
    {"data": {"values": [{"t": 2.932, "e": -0.397, "label": "R"}]},
     "mark": {"type": "text", "align": "left", "baseline": "middle", "fontSize": 20, "angle": -20, "dx": -44},
     "encoding": {"x": {"field": "t", "type": "quantitative", "scale": {"domain": [4.583, 2.593], "nice": false, "zero": false}}, "y": {"field": "e", "type": "quantitative", "scale": {"domain": [-0.528, 0.2423], "nice": false, "zero": false}}, "text": {"field": "label"}}},
    {"data": {"values": [{"t": 2.932, "e": -0.397, "label": "c"}]},
     "mark": {"type": "text", "align": "left", "baseline": "middle", "fontSize": 14, "angle": -20, "dx": -30, "dy": 5},
     "encoding": {"x": {"field": "t", "type": "quantitative", "scale": {"domain": [4.583, 2.593], "nice": false, "zero": false}}, "y": {"field": "e", "type": "quantitative", "scale": {"domain": [-0.528, 0.2423], "nice": false, "zero": false}}, "text": {"field": "label"}}},
    {"data": {"values": [{"t": 2.932, "e": -0.397, "label": "= 4 Gyr"}]},
     "mark": {"type": "text", "align": "left", "baseline": "middle", "fontSize": 20, "angle": -20, "dx": -23},
     "encoding": {"x": {"field": "t", "type": "quantitative", "scale": {"domain": [4.583, 2.593], "nice": false, "zero": false}}, "y": {"field": "e", "type": "quantitative", "scale": {"domain": [-0.528, 0.2423], "nice": false, "zero": false}}, "text": {"field": "label"}}}
  ]
}
]
}
